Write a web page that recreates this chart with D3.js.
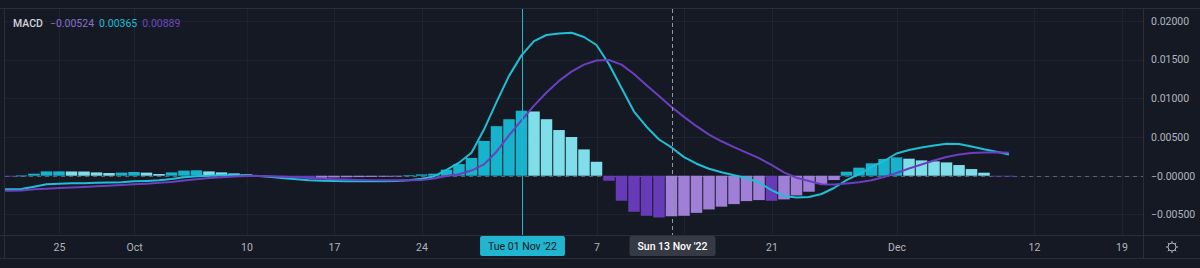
<!DOCTYPE html>
<html>
<head>
<meta charset="utf-8">
<script src="https://cdn.jsdelivr.net/npm/d3@7"></script>
<style>
  html, body { margin: 0; padding: 0; background: #151924; }
  svg { display: block; font-family: Roboto, "Noto Sans", sans-serif; }
</style>
</head>
<body>
<div id="chart"></div>
<script>
// daily bars, 20 Sep 2022 .. 10 Dec 2022
const firstDay = "2022-09-20";
const lastDay = "2022-12-10";

const macd = [
  -0.00176, -0.00176, -0.00172, -0.00142, -0.00111, -0.00103, -0.00098, -0.00097, -0.00092, -0.00088,
  -0.00084, -0.00073, -0.00068, -0.00060, -0.00043, -0.00021, -0.00008, 0.00000, 0.00005, 0.00005,
  0.00003, -0.00004, -0.00017, -0.00034, -0.00047, -0.00060, -0.00066, -0.00068, -0.00070, -0.00072,
  -0.00073, -0.00072, -0.00068, -0.00060, -0.00040, -0.00010, 0.00075, 0.00168, 0.00297, 0.00596,
  0.00950, 0.01290, 0.01555, 0.01740, 0.01818, 0.01838, 0.01848, 0.01792, 0.01689, 0.01440,
  0.01133, 0.00829, 0.00633, 0.00468, 0.00365, 0.00240, 0.00155, 0.00090, 0.00045, 0.00005,
  -0.00030, -0.00088, -0.00185, -0.00262, -0.00282, -0.00275, -0.00236, -0.00159, -0.00056, 0.00022,
  0.00110, 0.00190, 0.00287, 0.00332, 0.00364, 0.00390, 0.00413, 0.00410, 0.00377, 0.00341,
  0.00309, 0.00274
];

const signal = [
  -0.00194, -0.00194, -0.00191, -0.00176, -0.00168, -0.00159, -0.00152, -0.00146, -0.00137, -0.00129,
  -0.00120, -0.00111, -0.00103, -0.00092, -0.00081, -0.00062, -0.00045, -0.00030, -0.00019, -0.00010,
  -0.00005, -0.00004, -0.00006, -0.00013, -0.00021, -0.00030, -0.00039, -0.00045, -0.00050, -0.00054,
  -0.00057, -0.00059, -0.00060, -0.00060, -0.00057, -0.00036, -0.00003, 0.00018, 0.00067, 0.00146,
  0.00310, 0.00520, 0.00715, 0.00905, 0.01075, 0.01225, 0.01345, 0.01435, 0.01488, 0.01495,
  0.01435, 0.01315, 0.01170, 0.01030, 0.00889, 0.00760, 0.00640, 0.00530, 0.00445, 0.00370,
  0.00298, 0.00227, 0.00139, 0.00044, -0.00027, -0.00068, -0.00110, -0.00112, -0.00100, -0.00085,
  -0.00059, -0.00017, 0.00035, 0.00093, 0.00145, 0.00196, 0.00242, 0.00274, 0.00293, 0.00301,
  0.00302, 0.00298
];

const hist = [
  0.00015, -0.00004, 0.00003, 0.00026, 0.00056, 0.00056, 0.00055, 0.00054, 0.00043, 0.00035,
  0.00040, 0.00048, 0.00040, 0.00022, 0.00043, 0.00066, 0.00070, 0.00056, 0.00043, 0.00030,
  0.00017, 0.00005, -0.00008, -0.00018, -0.00024, -0.00030, -0.00027, -0.00023, -0.00020, -0.00018,
  -0.00016, -0.00013, -0.00005, 0.00005, 0.00017, 0.00026, 0.00078, 0.00150, 0.00230, 0.00450,
  0.00640, 0.00730, 0.00840, 0.00830, 0.00730, 0.00590, 0.00500, 0.00340, 0.00180, -0.00065,
  -0.00324, -0.00466, -0.00518, -0.00540, -0.00524, -0.00518, -0.00480, -0.00436, -0.00400, -0.00367,
  -0.00328, -0.00315, -0.00324, -0.00306, -0.00255, -0.00207, -0.00108, -0.00056, 0.00052, 0.00104,
  0.00160, 0.00216, 0.00237, 0.00220, 0.00198, 0.00186, 0.00172, 0.00138, 0.00086, 0.00039,
  -0.00001, -0.00009
];

const timeTicks = ["2022-09-25", "2022-10-01", "2022-10-10", "2022-10-17", "2022-10-24", "2022-11-01",
  "2022-11-07", "2022-11-14", "2022-11-21", "2022-12-01", "2022-12-12", "2022-12-19"];
const timeTickLabels = ["25", "Oct", "10", "17", "24", "Nov", "7", "14", "21", "Dec", "12", "19"];

const priceTicks = [0.02, 0.015, 0.01, 0.005, 0, -0.005];

const legendLabel = "MACD";
const legendValues = ["\u22120.00524", "0.00365", "0.00889"];

const markedDay = "2022-11-01";
const markedLabel = "Tue 01 Nov '22";
const cursorDay = "2022-11-13";
const cursorLabel = "Sun 13 Nov '22";

// ---- layout ----
const W = 1200, H = 268;
const plot = { left: 5, right: 1143, top: 9, bottom: 235 };
const axisBottom = 258;

const colors = {
  bg: "#151924",
  border: "#2a2e39",
  grid: "#1f2330",
  text: "#b2b5be",
  macd: "#1fbfd6",
  signal: "#6b3fbf",
  histUp: "#17b3cc",
  histUpFall: "#80deea",
  histDown: "#673ab7",
  histDownRise: "#a07fd6"
};

const days = d3.utcDay.range(new Date(firstDay), d3.utcDay.offset(new Date(lastDay), 1));

const x = d3.scaleUtc()
  .domain([new Date("2022-10-01"), new Date("2022-12-01")])
  .range([134, 896.5]);

const y = d3.scaleLinear()
  .domain([-0.00766, 0.02154])
  .range([plot.bottom, plot.top]);

const svg = d3.select("#chart").append("svg")
  .attr("width", W)
  .attr("height", H);

svg.append("rect").attr("width", W).attr("height", H).attr("fill", colors.bg);

svg.append("defs").append("clipPath").attr("id", "plot-clip")
  .append("rect")
  .attr("x", plot.left).attr("y", plot.top)
  .attr("width", plot.right - plot.left).attr("height", plot.bottom - plot.top);

// grid
const grid = svg.append("g");
grid.selectAll(".vgrid")
  .data(timeTicks)
  .enter().append("line")
  .attr("x1", d => Math.round(x(new Date(d))) + 0.5)
  .attr("x2", d => Math.round(x(new Date(d))) + 0.5)
  .attr("y1", plot.top).attr("y2", plot.bottom)
  .attr("stroke", colors.grid);
grid.selectAll(".hgrid")
  .data(priceTicks)
  .enter().append("line")
  .attr("x1", plot.left).attr("x2", plot.right)
  .attr("y1", d => Math.round(y(d)) + 0.5)
  .attr("y2", d => Math.round(y(d)) + 0.5)
  .attr("stroke", colors.grid);

// borders
const borders = svg.append("g").attr("stroke", colors.border).attr("fill", "none");
borders.append("line").attr("x1", 0).attr("x2", W).attr("y1", plot.top - 0.5).attr("y2", plot.top - 0.5);
borders.append("line").attr("x1", 0).attr("x2", W).attr("y1", plot.bottom + 0.5).attr("y2", plot.bottom + 0.5);
borders.append("line").attr("x1", 0).attr("x2", W).attr("y1", axisBottom + 0.5).attr("y2", axisBottom + 0.5);
borders.append("line").attr("x1", plot.left - 0.5).attr("x2", plot.left - 0.5).attr("y1", plot.top).attr("y2", axisBottom);
borders.append("line").attr("x1", plot.right + 0.5).attr("x2", plot.right + 0.5).attr("y1", plot.top).attr("y2", axisBottom);

const chart = svg.append("g").attr("clip-path", "url(#plot-clip)");

// zero level
chart.append("line")
  .attr("x1", plot.left).attr("x2", plot.right)
  .attr("y1", Math.round(y(0)) + 0.5).attr("y2", Math.round(y(0)) + 0.5)
  .attr("stroke", "#5d606b")
  .attr("stroke-dasharray", "4,4");

// histogram
const barW = 11.5;
chart.selectAll(".bar")
  .data(hist)
  .enter().append("rect")
  .attr("class", "bar")
  .attr("x", (d, i) => x(days[i]) - barW / 2)
  .attr("y", d => Math.min(y(d), y(0)))
  .attr("width", barW)
  .attr("height", d => Math.max(0.8, Math.abs(y(d) - y(0))))
  .attr("fill", (d, i) => {
    const prev = i > 0 ? hist[i - 1] : 0;
    if (d >= 0) return d >= prev ? colors.histUp : colors.histUpFall;
    return d <= prev ? colors.histDown : colors.histDownRise;
  });

// lines
const line = d3.line()
  .x((d, i) => x(days[i]))
  .y(d => y(d));

chart.append("path")
  .datum(macd)
  .attr("d", line)
  .attr("fill", "none")
  .attr("stroke", colors.macd)
  .attr("stroke-width", 2)
  .attr("stroke-linejoin", "round");

chart.append("path")
  .datum(signal)
  .attr("d", line)
  .attr("fill", "none")
  .attr("stroke", colors.signal)
  .attr("stroke-width", 2)
  .attr("stroke-linejoin", "round");

// marked day (solid) and crosshair (dashed)
const mx = Math.round(x(new Date(markedDay))) + 0.5;
svg.append("line")
  .attr("x1", mx).attr("x2", mx)
  .attr("y1", plot.top).attr("y2", plot.bottom)
  .attr("stroke", "#22b5cf");

const cx = Math.round(x(new Date(cursorDay))) + 0.5;
svg.append("line")
  .attr("x1", cx).attr("x2", cx)
  .attr("y1", plot.top).attr("y2", plot.bottom)
  .attr("stroke", "#9598a1")
  .attr("stroke-dasharray", "4,3");

// price axis
const yAxis = svg.append("g")
  .attr("transform", `translate(${plot.right + 8},0)`)
  .call(d3.axisRight(y)
    .tickValues(priceTicks)
    .tickSize(0)
    .tickPadding(0)
    .tickFormat(d => (d <= 0 ? "\u2212" : "") + Math.abs(d).toFixed(5)));
yAxis.select(".domain").remove();
yAxis.selectAll("text")
  .attr("fill", colors.text)
  .style("font-size", "10.5px")
  .style("font-family", "Roboto, sans-serif");

// time axis; labels under the crosshair badges are hidden, as on the terminal
const badgeXs = [mx, cx];
const xAxis = svg.append("g")
  .attr("transform", `translate(0,${plot.bottom})`)
  .call(d3.axisBottom(x)
    .tickValues(timeTicks.map(d => new Date(d)))
    .tickSize(0)
    .tickPadding(9)
    .tickFormat((d, i) => timeTickLabels[i]));
xAxis.select(".domain").remove();
xAxis.selectAll("text")
  .attr("fill", colors.text)
  .style("font-size", "10.5px")
  .style("font-family", "Roboto, sans-serif");
xAxis.selectAll(".tick")
  .filter(d => badgeXs.some(b => Math.abs(x(d) - b) < 50))
  .remove();

// crosshair labels on the time axis
function timeBadge(cxPos, label, fill, textFill, weight) {
  const g = svg.append("g");
  const t = g.append("text")
    .attr("x", cxPos)
    .attr("y", 250)
    .attr("text-anchor", "middle")
    .attr("fill", textFill)
    .style("font-size", "10.5px")
    .style("font-weight", weight)
    .text(label);
  const w = t.node().getComputedTextLength() + 16;
  g.insert("rect", "text")
    .attr("x", cxPos - w / 2)
    .attr("y", 236)
    .attr("width", w)
    .attr("height", 20)
    .attr("rx", 2)
    .attr("fill", fill);
}
timeBadge(mx, markedLabel, "#22b5cf", "#131722", 400);
timeBadge(cx, cursorLabel, "#363a45", "#ffffff", 500);

// legend
const legend = svg.append("text")
  .attr("x", 13)
  .attr("y", 27)
  .style("font-size", "10.5px");
legend.append("tspan").attr("fill", "#d1d4dc").style("font-weight", 500).text(legendLabel);
const legendColors = ["#8a70c8", colors.macd, "#7048c0"];
legendValues.forEach((v, i) => {
  legend.append("tspan")
    .attr("dx", i === 0 ? 7 : 5)
    .attr("fill", legendColors[i])
    .text(v);
});

// settings gear
const gear = svg.append("g")
  .attr("transform", "translate(1172,247)")
  .attr("stroke", colors.text)
  .attr("fill", "none")
  .attr("stroke-width", 1);
gear.append("circle").attr("r", 4);
d3.range(8).forEach(k => {
  const a = k * Math.PI / 4;
  gear.append("line")
    .attr("x1", Math.cos(a) * 4).attr("y1", Math.sin(a) * 4)
    .attr("x2", Math.cos(a) * 6).attr("y2", Math.sin(a) * 6);
});
</script>
</body>
</html>
